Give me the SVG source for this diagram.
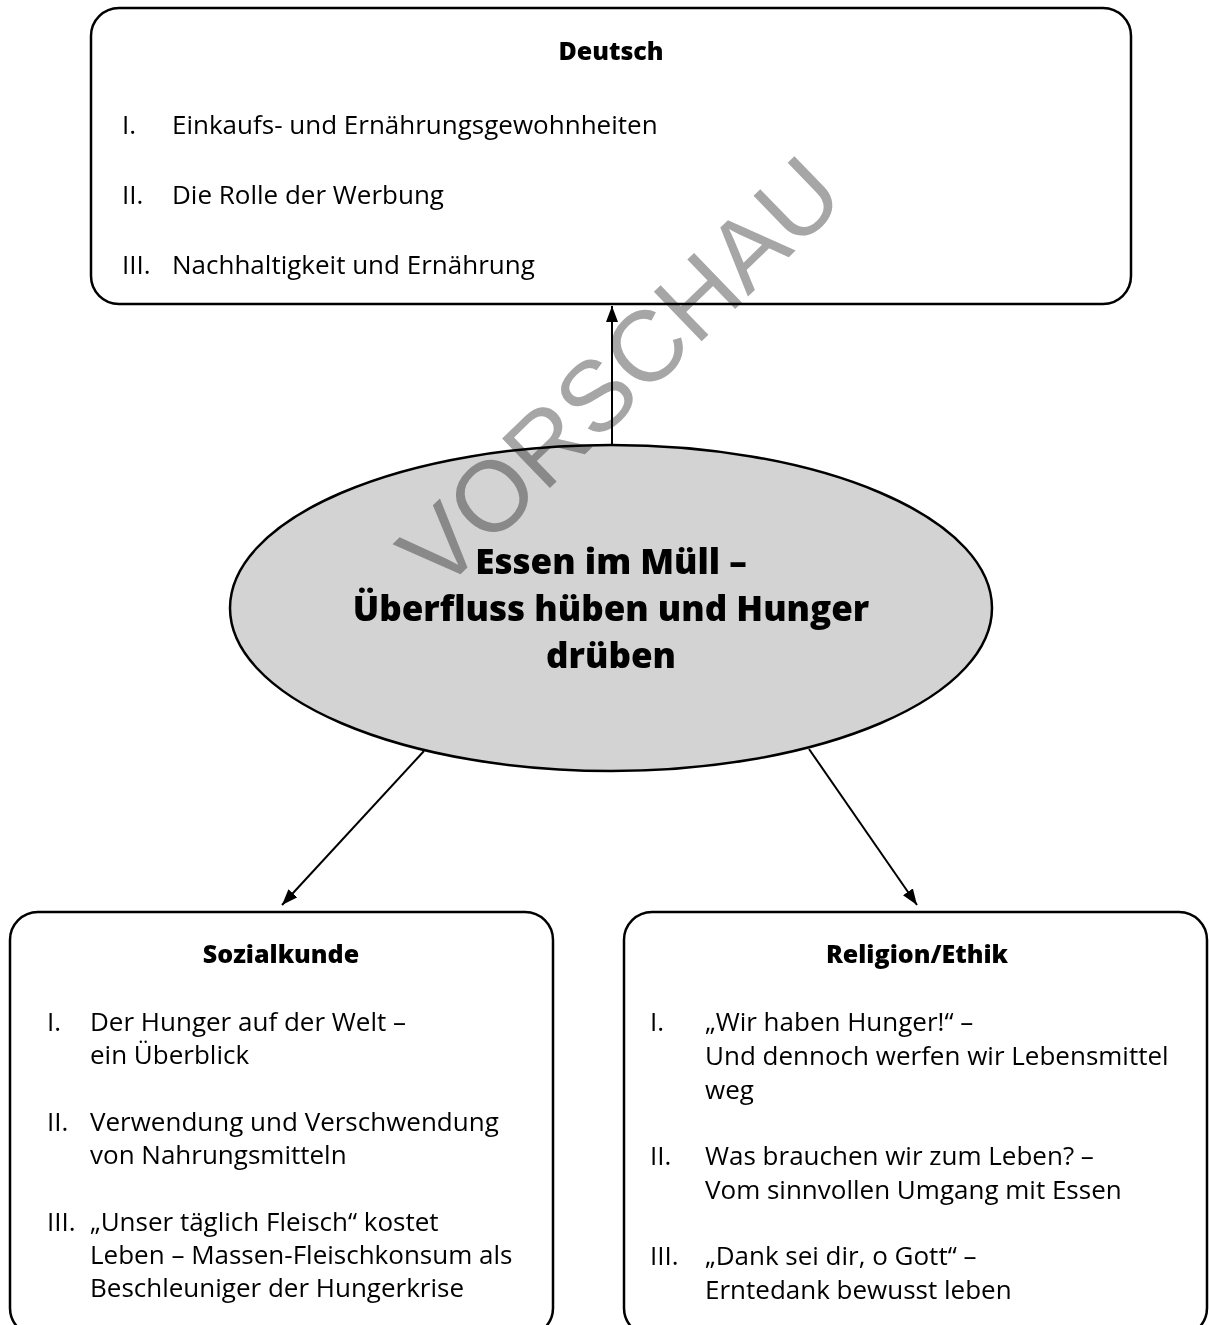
<svg xmlns="http://www.w3.org/2000/svg" width="1209" height="1325" viewBox="0 0 1209 1325">
  <style>
    .box { fill: #ffffff; stroke: #000000; stroke-width: 2.5; }
    .ell { fill: #d3d3d3; stroke: #000000; stroke-width: 2.5; }
    .conn { stroke: #000000; stroke-width: 2; fill: none; marker-end: url(#arrow); }
    .t { font-family: "Open Sans", "Liberation Sans", sans-serif; font-size: 26px; fill: #000000; }
    .h { font-family: "Open Sans", "Liberation Sans", sans-serif; font-size: 25px; font-weight: 800; fill: #000000; text-anchor: middle; }
    .c { font-family: "Open Sans", "Liberation Sans", sans-serif; font-size: 35px; font-weight: 800; fill: #000000; text-anchor: middle; }
    .wm { font-family: "Liberation Sans", Arial, sans-serif; font-size: 100px; fill: #a6a6a6; mix-blend-mode: multiply; }
  </style>
  <defs>
    <marker id="arrow" viewBox="0 0 16 12" refX="16" refY="6" markerWidth="16" markerHeight="12" markerUnits="userSpaceOnUse" orient="auto">
      <path d="M0,0 L16,6 L0,12 z" fill="#000000"/>
    </marker>
  </defs>

  <g id="deutsch">
    <rect class="box" x="91" y="8" width="1040" height="296" rx="28" ry="28"/>
    <text class="h" x="611" y="60">Deutsch</text>
    <text class="t" x="122" y="134">I.</text>
    <text class="t" x="172" y="134">Einkaufs- und Ernährungsgewohnheiten</text>
    <text class="t" x="122" y="204">II.</text>
    <text class="t" x="172" y="204">Die Rolle der Werbung</text>
    <text class="t" x="122" y="274">III.</text>
    <text class="t" x="172" y="274">Nachhaltigkeit und Ernährung</text>
  </g>

  <g id="connectors">
    <line class="conn" x1="612" y1="445" x2="612" y2="306"/>
    <line class="conn" x1="424" y1="751" x2="282" y2="905"/>
    <line class="conn" x1="809" y1="749" x2="917" y2="905"/>
  </g>

  <g id="center">
    <ellipse class="ell" cx="611" cy="608" rx="381" ry="163"/>
    <text class="c" x="611" y="574">Essen im Müll –</text>
    <text class="c" x="611" y="621">Überfluss hüben und Hunger</text>
    <text class="c" x="611" y="668">drüben</text>
  </g>

  <g id="sozialkunde">
    <rect class="box" x="10" y="912" width="543" height="424" rx="28" ry="28"/>
    <text class="h" x="281" y="963">Sozialkunde</text>
    <text class="t" x="47" y="1031">I.</text>
    <text class="t" x="90" y="1031">Der Hunger auf der Welt –</text>
    <text class="t" x="90" y="1064">ein Überblick</text>
    <text class="t" x="47" y="1131">II.</text>
    <text class="t" x="90" y="1131">Verwendung und Verschwendung</text>
    <text class="t" x="90" y="1164">von Nahrungsmitteln</text>
    <text class="t" x="47" y="1231">III.</text>
    <text class="t" x="90" y="1231">„Unser täglich Fleisch“ kostet</text>
    <text class="t" x="90" y="1264">Leben – Massen-Fleischkonsum als</text>
    <text class="t" x="90" y="1297">Beschleuniger der Hungerkrise</text>
  </g>

  <g id="religion">
    <rect class="box" x="624" y="912" width="583" height="424" rx="28" ry="28"/>
    <text class="h" x="917" y="963">Religion/Ethik</text>
    <text class="t" x="650" y="1031">I.</text>
    <text class="t" x="705" y="1031">„Wir haben Hunger!“ –</text>
    <text class="t" x="705" y="1065">Und dennoch werfen wir Lebensmittel</text>
    <text class="t" x="705" y="1099">weg</text>
    <text class="t" x="650" y="1165">II.</text>
    <text class="t" x="705" y="1165">Was brauchen wir zum Leben? –</text>
    <text class="t" x="705" y="1199">Vom sinnvollen Umgang mit Essen</text>
    <text class="t" x="650" y="1265">III.</text>
    <text class="t" x="705" y="1265">„Dank sei dir, o Gott“ –</text>
    <text class="t" x="705" y="1299">Erntedank bewusst leben</text>
  </g>

  <g id="watermark">
    <text class="wm" x="0" y="0" transform="translate(440,594) rotate(-44)">VORSCHAU</text>
  </g>
</svg>
